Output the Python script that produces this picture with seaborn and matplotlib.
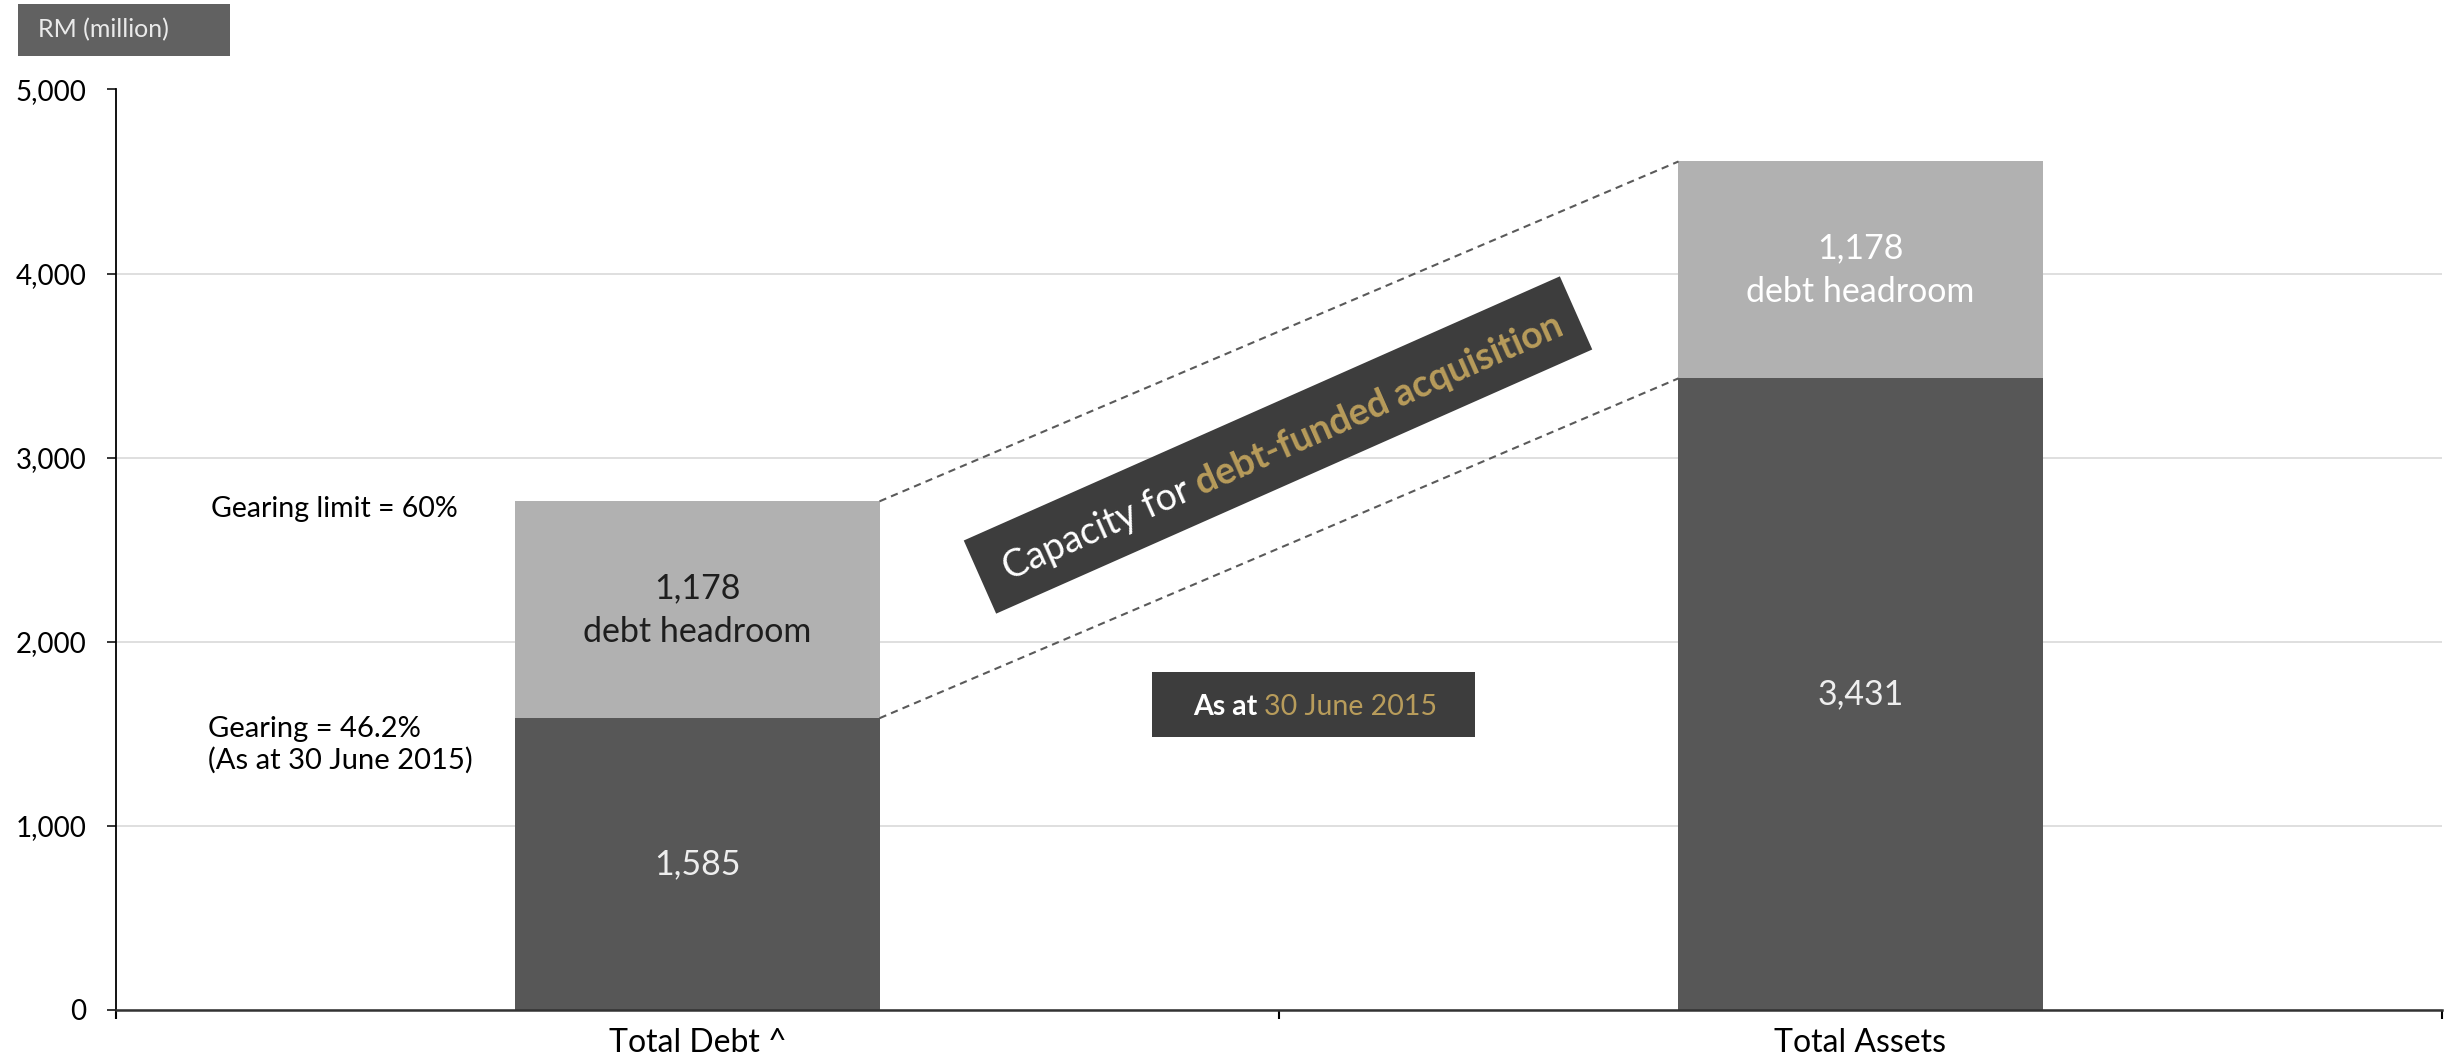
import numpy as np
import pandas as pd
import matplotlib
matplotlib.use("Agg")
import matplotlib.pyplot as plt
import seaborn as sns
from matplotlib.patches import Rectangle, Polygon
from matplotlib.ticker import FuncFormatter, FixedLocator, FixedFormatter, NullFormatter

# ---- data -------------------------------------------------------------
categories = ["Total Debt ^", "Total Assets"]
base_values = [1585, 3431]          # current debt / total assets
headroom_values = [1178, 1178]      # debt headroom up to the gearing limit
headroom_label = "debt headroom"
y_ticks = [0, 1000, 2000, 3000, 4000, 5000]
unit_label = "RM (million)"
gearing_limit_text = "Gearing limit = 60%"
gearing_text = "Gearing = 46.2%\n(As at 30 June 2015)"
banner_parts = ["Capacity for", "debt-funded acquisition"]
date_parts = ["As at", "30 June 2015"]

# ---- style ------------------------------------------------------------
DARK = "#575757"
LIGHT = "#b1b1b1"
BOX = "#3d3d3d"
GOLD = "#b89c5b"
W, H, DPI = 2447, 1063, 100

sns.set_theme(style="white")
plt.rcParams["font.family"] = ["Lato", "DejaVu Sans"]

fig = plt.figure(figsize=(W / DPI, H / DPI), dpi=DPI)
ax = fig.add_axes([116 / W, (H - 1010) / H, (2442 - 116) / W, (1010 - 89.5) / H])

totals = [b + h for b, h in zip(base_values, headroom_values)]
df = pd.DataFrame({"category": categories, "base": base_values, "total": totals})
bar_width = 0.313

# stacked bars: full height in light grey, base part in dark grey on top
sns.barplot(data=df, x="category", y="total", color=LIGHT, saturation=1,
            width=bar_width, linewidth=0, ax=ax, zorder=2)
sns.barplot(data=df, x="category", y="base", color=DARK, saturation=1,
            width=bar_width, linewidth=0, ax=ax, zorder=2)

ax.set_xlim(-0.5, 1.5)
ax.set_ylim(0, 5000)
ax.set_xlabel("")
ax.set_ylabel("")

# y axis
ax.yaxis.set_major_locator(FixedLocator(y_ticks))
ax.yaxis.set_major_formatter(FuncFormatter(lambda v, p: f"{int(v):,}"))
ax.grid(axis="y", color="#d9d9d9", linewidth=1.2, zorder=0)
ax.grid(axis="x", visible=False)
ax.set_axisbelow(True)
for s in ["top", "right"]:
    ax.spines[s].set_visible(False)
ax.spines["left"].set_color("black")
ax.spines["left"].set_linewidth(1.3)
ax.spines["bottom"].set_color("#333333")
ax.spines["bottom"].set_linewidth(1.8)
ax.tick_params(axis="y", direction="out", length=6.5, width=1.1, color="black",
               labelsize=20, pad=15, left=True, labelcolor="black")

# x axis: tick marks on the category boundaries, names centred under bars
ax.xaxis.set_major_locator(FixedLocator([-0.5, 0.5, 1.5]))
ax.xaxis.set_major_formatter(NullFormatter())
ax.xaxis.set_minor_locator(FixedLocator([0, 1]))
ax.xaxis.set_minor_formatter(FixedFormatter(categories))
ax.tick_params(axis="x", which="major", direction="out", length=6.5, width=1.5,
               color="black", bottom=True)
ax.tick_params(axis="x", which="minor", length=0, labelsize=23, pad=13,
               labelcolor="black", bottom=True)

# value labels inside the segments
headroom_colors = ["#1e1e1e", "white"]
for i, (b, h) in enumerate(zip(base_values, headroom_values)):
    ax.text(i, b / 2, f"{b:,}", ha="center", va="center", color="#eeeeee",
            fontsize=24.5, zorder=4)
    ax.text(i, b + h / 2, f"{h:,}\n{headroom_label}", ha="center", va="center",
            color=headroom_colors[i], fontsize=24.5, linespacing=1.45, zorder=4)

# dashed connectors from the debt bar to the assets bar
half = bar_width / 2
dash_kw = dict(color="#5a5a5a", lw=1.5, ls=(0, (3.5, 2.5)), zorder=3)
ax.plot([0 + half, 1 - half], [totals[0], totals[1]], **dash_kw)
ax.plot([0 + half, 1 - half], [base_values[0], base_values[1]], **dash_kw)

# gearing notes
ax.text(-0.418, 2720, gearing_limit_text, ha="left", va="center", fontsize=20.5,
        color="black")
ax.text(-0.421, 1440, gearing_text, ha="left", va="center", fontsize=21,
        color="black", linespacing=1.25)

# unit label box (top left)
fig.add_artist(Rectangle((18 / W, (H - 56) / H), 212 / W, 52 / H,
                         transform=fig.transFigure, color="#616161", lw=0))
fig.text(38 / W, (H - 30) / H, unit_label, ha="left", va="center",
         fontsize=18, color="#eaeaea")

# ---- multi-colour text helpers ---------------------------------------
renderer = fig.canvas.get_renderer()


def text_width(s, size, weight="normal"):
    t = fig.text(0, 0, s, fontsize=size, fontweight=weight)
    w = t.get_window_extent(renderer).width
    t.remove()
    return w


def place_runs(cx, cy, angle, runs, size):
    """Write coloured runs along one baseline centred on (cx, cy) px from top-left."""
    widths = [text_width(s, size, wt) for s, c, wt in runs]
    gap = text_width("a a", size) - text_width("aa", size)
    total = sum(widths) + gap * (len(runs) - 1)
    th = np.deg2rad(angle)
    ux, uy = np.cos(th), np.sin(th)
    px = size * DPI / 72.0
    drop = 0.36 * px
    x0 = cx - total / 2 * ux + drop * np.sin(th)
    y0 = (H - cy) - total / 2 * uy - drop * np.cos(th)
    pos = 0.0
    for (s, c, wt), w in zip(runs, widths):
        fig.text((x0 + pos * ux) / W, (y0 + pos * uy) / H, s, color=c,
                 fontweight=wt, fontsize=size, rotation=angle,
                 rotation_mode="anchor", ha="left", va="baseline", zorder=6)
        pos += w + gap


# rotated banner between the connectors
bcx, bcy, bang, blen, bthk = 1278, 445, 23.9, 652, 80
t = np.deg2rad(bang)
u = np.array([np.cos(t), -np.sin(t)])
v = np.array([np.sin(t), np.cos(t)])
c = np.array([bcx, bcy])
corners = [c - blen / 2 * u - bthk / 2 * v, c + blen / 2 * u - bthk / 2 * v,
           c + blen / 2 * u + bthk / 2 * v, c - blen / 2 * u + bthk / 2 * v]
fig.add_artist(Polygon([(p[0] / W, (H - p[1]) / H) for p in corners], closed=True,
                       transform=fig.transFigure, color=BOX, lw=0, zorder=5))
place_runs(bcx + 4, bcy, bang, [(banner_parts[0], "white", "normal"),
                                (banner_parts[1], GOLD, "bold")], 27)

# date box
fig.add_artist(Rectangle((1152 / W, (H - 737) / H), 323 / W, 65 / H,
                         transform=fig.transFigure, color=BOX, lw=0, zorder=5))
place_runs(1315, 705, 0, [(date_parts[0], "white", "bold"),
                          (date_parts[1], GOLD, "normal")], 20.5)

fig.savefig("out.png", dpi=DPI)
